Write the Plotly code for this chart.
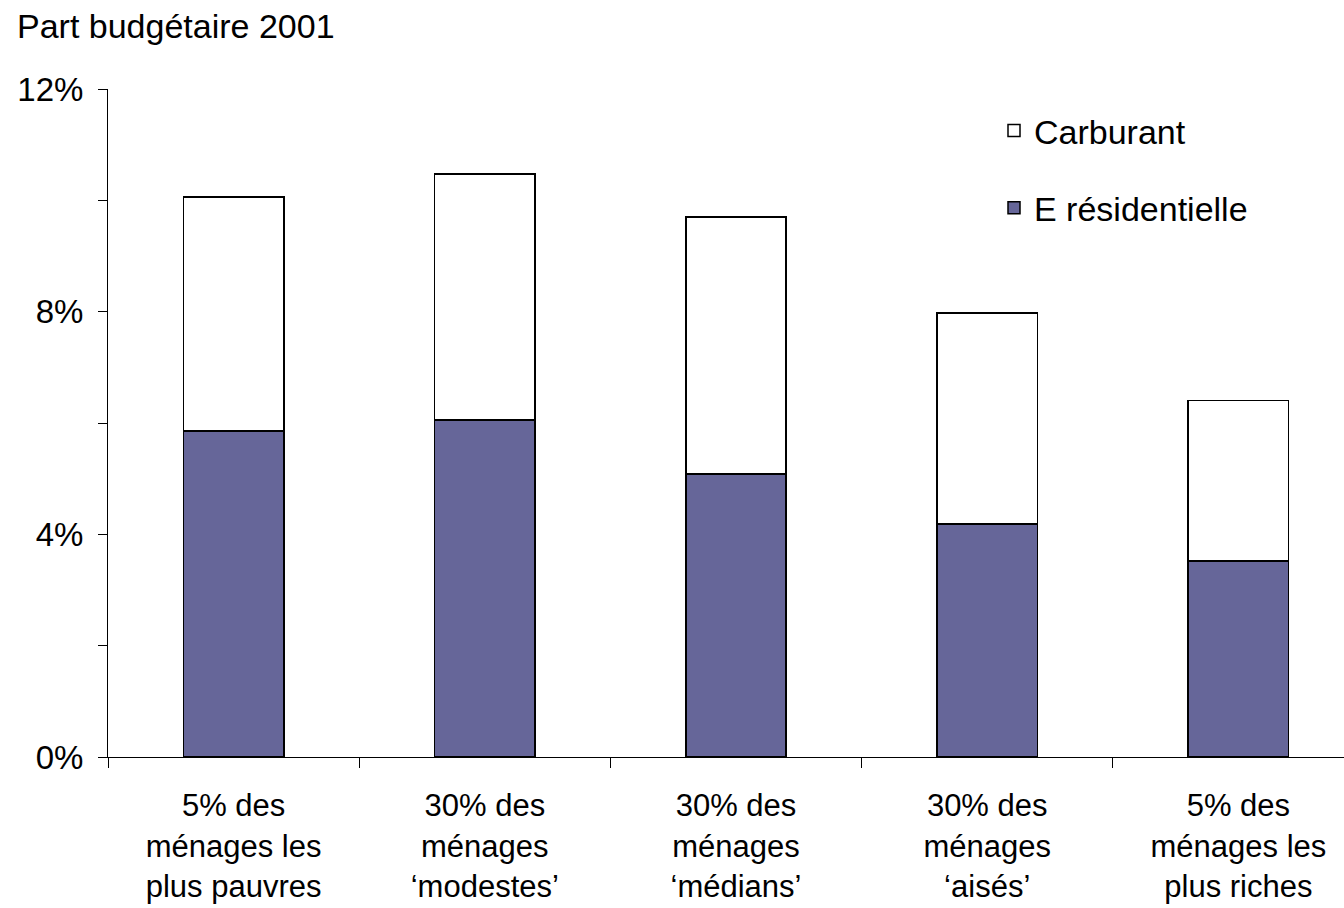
import plotly.graph_objects as go

CATEGORIES = [
    "5% des<br>ménages les<br>plus pauvres",
    "30% des<br>ménages<br>‘modestes’",
    "30% des<br>ménages<br>‘médians’",
    "30% des<br>ménages<br>‘aisés’",
    "5% des<br>ménages les<br>plus riches",
]
E_RESIDENTIELLE = [0.0586, 0.0605, 0.0508, 0.0419, 0.0352]
CARBURANT = [0.0420, 0.0442, 0.0462, 0.0379, 0.0288]

Y_TICKS = [0, 0.02, 0.04, 0.06, 0.08, 0.10, 0.12]
Y_TICK_TEXT = ["0%", "", "4%", "", "8%", "", "12%"]

FONT = "Liberation Sans, Arial, sans-serif"
RESID_COLOR = "#666699"

W, H = 1344, 908
L, T, B, R = 108, 89, 151, 0
CAT_W = 251.2  # pixel width of one category slot

fig = go.Figure()
fig.add_trace(go.Bar(
    x=CATEGORIES, y=E_RESIDENTIELLE, name="E résidentielle",
    marker=dict(color=RESID_COLOR, line=dict(color="black", width=1.5)),
    width=0.4, legendrank=2, legendgroup="res",
))
fig.add_trace(go.Bar(
    x=CATEGORIES, y=CARBURANT, name="Carburant",
    marker=dict(color="white", line=dict(color="black", width=1.5)),
    width=0.4, legendrank=1, legendgroup="carb",
))

x_end = -0.5 + (W - L - R) / CAT_W

fig.update_layout(
    barmode="stack",
    width=W, height=H,
    plot_bgcolor="white", paper_bgcolor="white",
    font=dict(family=FONT, color="black", size=32),
    margin=dict(l=L, r=R, t=T, b=B, pad=0),
    title=dict(
        text="Part budgétaire 2001", font=dict(size=34, color="black"),
        x=17 / W, xanchor="left", xref="container",
        y=1 - 26 / H, yanchor="middle", yref="container",
    ),
    xaxis=dict(
        range=[-0.5, x_end], showline=True, linecolor="black", linewidth=1,
        ticks="outside", tickson="boundaries", ticklen=10, tickcolor="black",
        showgrid=False, zeroline=False, tickfont=dict(size=31),
        ticklabelstandoff=21, automargin=False,
    ),
    yaxis=dict(
        range=[0, 0.12], tickvals=Y_TICKS, ticktext=Y_TICK_TEXT,
        showline=True, linecolor="black", linewidth=1,
        ticks="outside", ticklen=9, tickcolor="black",
        showgrid=False, zeroline=False, tickfont=dict(size=33),
        ticklabelstandoff=8, automargin=False,
    ),
    legend=dict(
        x=(994 - L) / (W - L - R), xanchor="left",
        y=(H - B - 102) / (H - T - B), yanchor="top",
        bgcolor="rgba(0,0,0,0)", font=dict(size=34),
        traceorder="grouped", tracegroupgap=30,
    ),
    showlegend=True,
)

# drop the default 8px page margin so the figure fills the window
fig.write_html(
    "out.html",
    config={"displayModeBar": False},
    post_script="document.body.style.margin='0';",
)
